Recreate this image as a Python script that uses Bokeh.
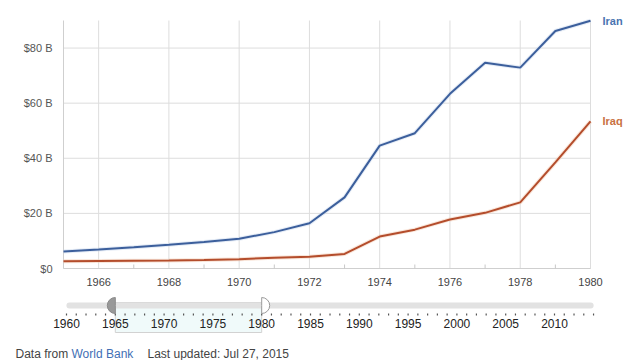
import math
from bokeh.plotting import figure
from bokeh.models import Range1d
from bokeh.core.properties import value
from bokeh.embed import file_html
from bokeh.resources import INLINE

# ---- data ----
years = [1965, 1966, 1967, 1968, 1969, 1970, 1971, 1972, 1973, 1974, 1975, 1976, 1977, 1978, 1979, 1980]
iran = [6.2, 6.9, 7.7, 8.6, 9.6, 10.8, 13.2, 16.4, 25.8, 44.6, 49.1, 63.4, 74.7, 72.9, 86.2, 89.9]
iraq = [2.6, 2.7, 2.8, 2.9, 3.1, 3.4, 3.9, 4.3, 5.3, 11.6, 14.1, 17.8, 20.2, 24.0, 38.5, 53.4]
y_ticks = [0, 20, 40, 60, 80]
y_tick_labels = ["$0", "$20 B", "$40 B", "$60 B", "$80 B"]
x_ticks = [1966, 1968, 1970, 1972, 1974, 1976, 1978, 1980]
minor_x_ticks = [1967, 1969, 1971, 1973, 1975, 1977, 1979]
series_names = ["Iran", "Iraq"]
y_top = 90

slider_first, slider_last = 1960, 2014
slider_years = list(range(slider_first, slider_last + 1))
slider_labels = [1960, 1965, 1970, 1975, 1980, 1985, 1990, 1995, 2000, 2005, 2010]
sel_start, sel_end = 1965, 1980

footer_parts = ["Data from", "World Bank", "Last updated: Jul 27, 2015"]

FONT = "Liberation Sans"
IRAN_LINE = "#3c5f9c"
IRAQ_LINE = "#b44d2c"
IRAN_LABEL = "#4a74b1"
IRAQ_LABEL = "#c9713f"
GRID = "#dddddd"
AXIS = "#cfcfcf"

W, H = 640, 360
# main chart scale: 1965 -> px 63, 1980 -> px 590; $0 -> px 268 (from top), $90B -> px 20
ppy = (590 - 63) / (years[-1] - years[0])
ppb = (268 - 20) / y_top
x0 = years[0] - 63 / ppy
x1 = years[-1] + (W - 590) / ppy
y0 = -(H - 268) / ppb
y1 = y_top + 20 / ppb

p = figure(width=W, height=H, output_backend="svg", toolbar_location=None,
           x_range=Range1d(x0, x1), y_range=Range1d(y0, y1),
           min_border_left=0, min_border_right=0, min_border_top=0, min_border_bottom=0,
           x_axis_location=None, y_axis_location=None)
p.outline_line_color = None
p.xgrid.visible = False
p.ygrid.visible = False
p.background_fill_color = "white"

# slider scale: 1960 -> px 66, 9.76 px / year
spy = 9.76
p.extra_x_ranges = {"slider": Range1d(slider_first - 66 / spy, slider_first + (W - 66) / spy),
                    "px": Range1d(0, W)}
p.extra_y_ranges = {"px": Range1d(H, 0)}

# ---- main chart furniture ----
p.segment(x0=[years[0]] * len(y_ticks), x1=[years[-1]] * len(y_ticks), y0=y_ticks, y1=y_ticks,
          line_color=GRID, line_width=1)
p.segment(x0=x_ticks, x1=x_ticks, y0=[0] * len(x_ticks), y1=[y_top] * len(x_ticks),
          line_color=GRID, line_width=1)
p.segment(x0=[years[0]], x1=[years[0]], y0=[0], y1=[y_top], line_color=AXIS, line_width=1)
p.segment(x0=[years[0]], x1=[years[-1]], y0=[0], y1=[0], line_color=AXIS, line_width=1)
p.segment(x0=minor_x_ticks, x1=minor_x_ticks, y0=[0] * len(minor_x_ticks),
          y1=[4 / ppb] * len(minor_x_ticks), line_color="#c8c8c8", line_width=1)

p.text(x=[years[0]] * len(y_ticks), y=y_ticks, text=y_tick_labels, x_offset=-11,
       text_font=value(FONT), text_font_size="11px", text_color="#555555",
       text_align="right", text_baseline="middle")
p.text(x=x_ticks, y=[0] * len(x_ticks), text=[str(t) for t in x_ticks], y_offset=13,
       text_font=value(FONT), text_font_size="11px", text_color="#444444",
       text_align="center", text_baseline="middle")

# ---- series ----
p.line(years, iraq, line_color="#f3cdb6", line_width=4, line_alpha=0.5)
p.line(years, iraq, line_color=IRAQ_LINE, line_width=2)
p.line(years, iran, line_color="#cbd9ee", line_width=4, line_alpha=0.5)
p.line(years, iran, line_color=IRAN_LINE, line_width=2)

p.text(x=[years[-1], years[-1]], y=[iran[-1], iraq[-1]], text=series_names, x_offset=12,
       text_font=value(FONT), text_font_size="11px", text_font_style="bold",
       text_color=[IRAN_LABEL, IRAQ_LABEL], text_align="left", text_baseline="middle")

# ---- range slider ----
p.quad(left=[sel_start], right=[sel_end], top=[302], bottom=[332],
       x_range_name="slider", y_range_name="px",
       fill_color="#f0fafa", line_color="#d2d2d2", line_width=1)
p.segment(x0=[slider_first + 0.3], x1=[slider_last - 0.3], y0=[305], y1=[305],
          x_range_name="slider", y_range_name="px",
          line_color="#e2e2e2", line_width=6, line_cap="round")
p.segment(x0=slider_years, x1=slider_years, y0=[313] * len(slider_years), y1=[315] * len(slider_years),
          x_range_name="slider", y_range_name="px", line_color="#555555", line_width=1.2)
p.wedge(x=[sel_start], y=[305], radius=8, radius_units="screen",
        start_angle=math.pi / 2, end_angle=3 * math.pi / 2,
        x_range_name="slider", y_range_name="px",
        fill_color="#999999", line_color="#8a8a8a", line_width=1)
p.wedge(x=[sel_end], y=[305], radius=8, radius_units="screen",
        start_angle=-math.pi / 2, end_angle=math.pi / 2,
        x_range_name="slider", y_range_name="px",
        fill_color="white", line_color="#9a9a9a", line_width=1)
p.text(x=slider_labels, y=[323] * len(slider_labels), text=[str(v) for v in slider_labels],
       x_range_name="slider", y_range_name="px",
       text_font=value(FONT), text_font_size="12px", text_color="#222222",
       text_align="center", text_baseline="middle")

# ---- footer ----
p.text(x=[15, 71, 147], y=[353, 353, 353], text=footer_parts,
       x_range_name="px", y_range_name="px",
       text_font=value(FONT), text_font_size="12px",
       text_color=["#444444", "#3f6fb5", "#444444"],
       text_align="left", text_baseline="alphabetic")

open("out.html", "w").write(file_html(p, INLINE))
